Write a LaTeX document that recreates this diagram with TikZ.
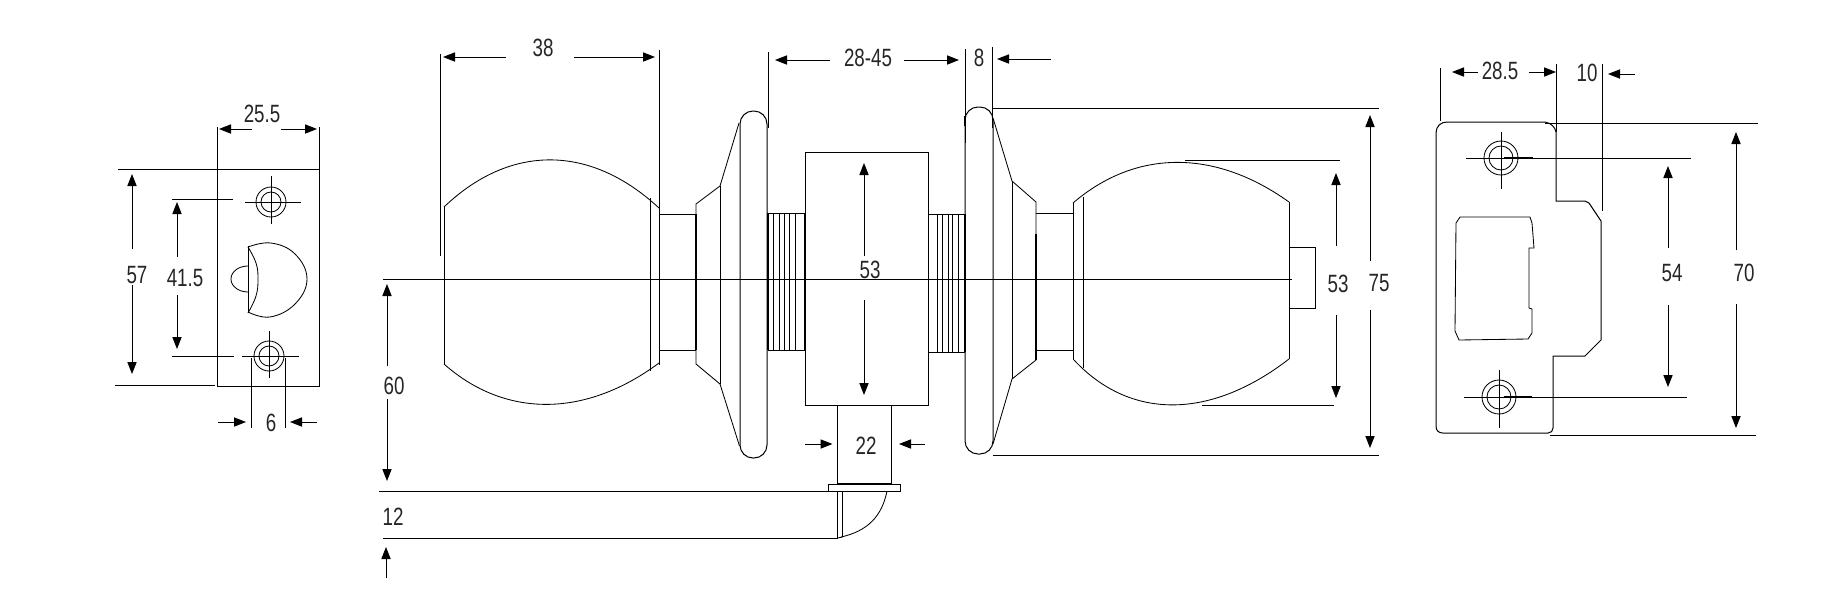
\documentclass[tikz,border=0pt]{standalone}
\usepackage{fontspec}
\setmainfont{Liberation Sans}[FakeStretch=0.75]
\usetikzlibrary{arrows.meta}
\tikzset{
  x=.5pt,y=-.5pt,
  ln/.style={line width=.5pt,black,line cap=butt,line join=miter},
  thk/.style={line width=1.1pt,black},
  thn/.style={line width=.42pt,black},
  dimarrow/.style={ln,-{Triangle[length=6pt,width=4.6pt]}},
  lab/.style={inner sep=0pt,font=\fontsize{12.5pt}{13pt}\selectfont,text=black!85},
}
\begin{document}
\begin{tikzpicture}
\useasboundingbox (0,-1) rectangle (1828,605);
% ---------- left: latch face
\draw[ln] (217.5,168) rectangle (319,385);
\draw[ln] (217.5,126) -- (217.5,168);
\draw[ln] (319,126) -- (319,168);
\draw[ln] (118,168) -- (217.5,168);
\draw[ln] (115,384) -- (215,384);
\draw[dimarrow] (252,128) -- (219,128);
\draw[dimarrow] (281,128) -- (317,128);
\node[lab] (a255) at (262,113) {25.5};
\draw[dimarrow] (132,248) -- (132,173);
\draw[dimarrow] (132,284) -- (132,373);
\node[lab] (a57) at (137,274) {57};
\draw[dimarrow] (177,256) -- (177,201);
\draw[dimarrow] (177,294) -- (177,348);
\node[lab] (a415) at (185,277) {41.5};
\draw[ln] (172,198) -- (233,198);
\draw[ln] (172,355) -- (234,355);
% holes
\draw[thn] (271,201) circle [radius=7.5pt];
\draw[thn] (271,201) circle [radius=5pt];
\draw[thn] (245,201) -- (301,201);
\draw[thn] (271,175) -- (271,223);
\draw[thn] (269,355) circle [radius=7.5pt];
\draw[thn] (269,355) circle [radius=5pt];
\draw[thn] (242,355) -- (299,355);
\draw[thn] (269,330) -- (269,377);
% 6
\draw[ln] (251,357) -- (251,427);
\draw[ln] (285,357) -- (285,427);
\draw[dimarrow] (218,421) -- (246,421);
\draw[dimarrow] (317,421) -- (290,421);
\node[lab] (a6) at (271,422) {6};
% latch bolt
\draw[thn] (248,245) -- (248,312);
\draw[thn] plot[smooth,tension=.7] coordinates {(248,246) (271,242) (295,253) (307,278) (295,303) (270,316) (248,311)};
\draw[thn] plot[smooth,tension=.7] coordinates {(248,246) (256,262) (258,278) (256,295) (248,312)};
\draw[thn] plot[smooth,tension=.8] coordinates {(248,265) (237,268) (231,278) (237,288) (248,291)};
% ---------- axis
\draw[ln] (383,278) -- (1292,278);
% ---------- left knob
\draw[ln] (440,53) -- (440,255);
\draw[ln] (659,49) -- (659,364);
\draw[dimarrow] (506,56) -- (443,56);
\draw[dimarrow] (574,56) -- (655,56);
\node[lab] (b38) at (543,47) {38};
\draw[thn] (444,206) -- (444,363);
\draw[thn] (444,206) .. controls (510,143) and (590,143) .. (659,207);
\draw[thn] (444,363) .. controls (505,417) and (585,417) .. (659,362);
\draw[thn] (650,197) -- (650,370);
\draw[ln] (659,213) -- (696,213);
\draw[ln] (659,349) -- (696,349);
\draw[thk] (696,213) -- (696,349);
\draw[thn] (696,363) -- (696,203) -- (720,185) -- (739,122);
\draw[thn] (696,363) -- (720,383) -- (739.5,445);
\draw[ln] (720,185) -- (720,383);
\draw[ln,rounded corners=6.5pt] (740,110) rectangle (767,457);
\draw[ln] (768,51) -- (768,127);
\draw[thk] (768,212) -- (768,349);
\draw[ln] (768,212) -- (805,212);
\draw[ln] (768,349) -- (805,349);
\foreach \tx in {773,779,784,789,795} \draw[thn] (\tx,212) -- (\tx,349);
% 60, 12
\draw[dimarrow] (387,365) -- (387,283);
\draw[dimarrow] (387,398) -- (387,480);
\node[lab] (b60) at (394,385) {60};
\draw[ln] (379,490) -- (828,490);
\draw[ln] (382.5,537) -- (837.5,537);
\node[lab] (b12) at (393,516) {12};
\draw[dimarrow] (386,577) -- (386,546);
% spindle
\draw[ln] (837.5,404) -- (837.5,483);
\draw[ln] (891,404) -- (891,483);
\draw[ln] (828,483) rectangle (900,490);
\draw[thk] (837.5,483) -- (891,483);
\draw[ln] (837.5,490) -- (837.5,537);
\draw[thn] (842.5,490) -- (842.5,536);
\draw[thn] (837.5,537) -- (842.5,536);
\draw[thn] (887,490) .. controls (882,515) and (868,530) .. (841,536);
\draw[dimarrow] (805,443) -- (832.5,443);
\draw[dimarrow] (925,443) -- (899,443);
\node[lab] (b22) at (866,445) {22};
% lock body
\draw[ln] (805,151) rectangle (928,404);
\draw[thk] (805,212) -- (805,349);
\draw[dimarrow] (864,255) -- (864,162);
\draw[dimarrow] (864,299) -- (864,394);
\node[lab] (b53) at (870,269) {53};
\draw[dimarrow] (830,59) -- (775,59);
\draw[dimarrow] (904,59) -- (959,59);
\node[lab] (b2845) at (868,57) {28-45};
% ---------- right rose
\draw[ln] (965,48) -- (965,142);
\draw[ln] (992,46) -- (992,127);
\node[lab] (b8) at (979,57) {8};
\draw[dimarrow] (1051,58) -- (997,58);
\draw[ln,rounded corners=6.5pt] (965,106) rectangle (993,453);
\draw[thk] (965,115) -- (965,125);
\draw[ln] (928,213) -- (965,213);
\draw[ln] (928,351) -- (965,351);
\draw[thk] (965,213) -- (965,351);
\foreach \tx in {937,942,948,952,958} \draw[thn] (\tx,213) -- (\tx,351);
\draw[thn] (993,117) -- (1012,180) -- (1036,201) -- (1036,359) -- (1012,378) -- (993,443);
\draw[ln] (1012,180) -- (1012,378);
\draw[thk] (1036,233) -- (1036,359);
\draw[ln] (1036,212) -- (1073,212);
\draw[ln] (1036,349) -- (1073,349);
\draw[ln] (993,107) -- (1379,107);
\draw[ln] (993,454) -- (1379,454);
% right knob
\draw[ln] (1073,202) -- (1073,359);
\draw[ln] (1289,201) -- (1289,358);
\draw[thn] (1073,202) .. controls (1136,148) and (1215,148) .. (1289,201);
\draw[thn] (1074,359) .. controls (1130,419) and (1210,419) .. (1289,358);
\draw[thn] (1083,196) -- (1083,367);
\draw[ln] (1289,246) rectangle (1315,307);
\draw[ln] (1185,159) -- (1340,159);
\draw[ln] (1202,404) -- (1334,404);
\draw[dimarrow] (1336,245) -- (1336,172);
\draw[dimarrow] (1336,314) -- (1336,397);
\node[lab] (c53) at (1338,283) {53};
\draw[dimarrow] (1370,260) -- (1370,114);
\draw[dimarrow] (1370,309) -- (1370,447);
\node[lab] (c75) at (1379,282) {75};
% ---------- strike plate
\draw[ln] (1436,132) .. controls (1436,125) and (1441,121) .. (1447,121) -- (1545,121)
  .. controls (1551,122) and (1555,126) .. (1556,131) -- (1556,200) -- (1585,200) -- (1589,202)
  -- (1601,220) -- (1601,339) -- (1585,355) -- (1553,355) -- (1553,427)
  .. controls (1553,430) and (1551,432) .. (1548,432) -- (1443,432)
  .. controls (1439,432) and (1436,430) .. (1436,425) -- cycle;
\draw[ln] (1440,67) -- (1440,120);
\draw[ln] (1556,63) -- (1556,131);
\draw[ln] (1602,63) -- (1602,210);
\draw[dimarrow] (1478,71) -- (1452,71);
\draw[dimarrow] (1529,71) -- (1556,71);
\node[lab] (d285) at (1500,70) {28.5};
\node[lab] (d10) at (1587,72) {10};
\draw[dimarrow] (1635,73) -- (1608,73);
\draw[ln] (1545,122) -- (1758,122);
\draw[ln] (1550,434) -- (1756,434);
\draw[dimarrow] (1736,249) -- (1736,131);
\draw[dimarrow] (1736,303) -- (1736,427);
\node[lab] (d70) at (1744,272) {70};
\draw[dimarrow] (1668,247) -- (1668,165);
\draw[dimarrow] (1668,304) -- (1668,386);
\node[lab] (d54) at (1672,272) {54};
\draw[ln] (1504,157) -- (1691,157);
\draw[ln] (1504,396) -- (1687,396);
\draw[line width=.8pt] (1504,157) -- (1533,157);
\draw[line width=.8pt] (1504,396) -- (1532,396);
\draw[thn] (1501,157) circle [radius=8.5pt];
\draw[thn] (1501,157) circle [radius=6pt];
\draw[thn] (1466,157) -- (1504,157);
\draw[thn] (1501,131) -- (1501,188);
\draw[thn] (1499,396) circle [radius=8.5pt];
\draw[thn] (1499,396) circle [radius=6pt];
\draw[thn] (1464,396) -- (1504,396);
\draw[thn] (1499,369) -- (1499,427);
\draw[thn] (1460,216) -- (1530,216) -- (1532,222) -- (1534,247) -- (1529,247) -- (1529,307)
  -- (1532,308) -- (1532,332) -- (1528,338) -- (1459,339) -- (1455,330) -- (1456,222) -- cycle;
\end{tikzpicture}
\end{document}
